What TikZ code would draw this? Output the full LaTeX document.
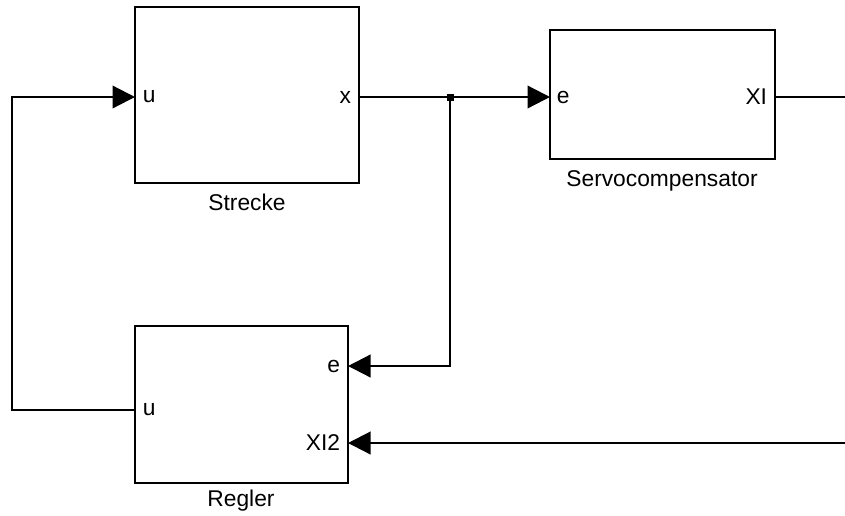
\documentclass[tikz,border=0pt]{standalone}
\usepackage{fontspec}
\setmainfont{Liberation Sans}
\usetikzlibrary{arrows.meta}
\begin{document}
\begin{tikzpicture}[x=0.025cm,y=-0.025cm,
    block/.style={draw,line width=1.6pt,inner sep=0pt},
    sig/.style={line width=1.6pt},
    tip/.style={-{Triangle[length=16pt,width=16pt]}},
    every node/.style={font=\fontsize{16.2}{19}\selectfont}]
  \useasboundingbox (0,0) rectangle (845,515);
  %% BLOCKS
  % Strecke
  \node[block,minimum width=5.6cm,minimum height=4.4cm] (strecke) at (247,95) {};
  \node (streckelabel) at (247,202) {Strecke};
  \node[anchor=west] (streckeu) at (138,97) {u};
  \node[anchor=east] (streckex) at (356,97) {x};
  \coordinate (su) at (135,97);
  \coordinate (sx) at (359,97);

  % Servocompensator
  \node[block,minimum width=5.625cm,minimum height=3.225cm] (servo) at (662.5,94.5) {};
  \node (servolabel) at (662,181) {Servocompensator};
  \node[anchor=west] (servoe) at (552,97) {e};
  \node[anchor=east] (servoxi) at (772,97) {XI};
  \coordinate (se) at (550,97);
  \coordinate (sxi) at (775,97);

  % Regler
  \node[block,minimum width=5.325cm,minimum height=3.925cm] (regler) at (241.5,404.5) {};
  \node (reglerlabel) at (241,501) {Regler};
  \node[anchor=east] (reglere) at (345,366) {e};
  \node[anchor=west] (regleru) at (138,410) {u};
  \node[anchor=east] (reglerxi) at (345,443) {XI2};
  \coordinate (re) at (348,366);
  \coordinate (ru) at (135,410);
  \coordinate (rxi) at (348,443);

  %% SIGNALS
  \coordinate (branch) at (450,97);
  \coordinate (bend) at (12,97);
  \coordinate (xiout) at (845,97);
  \coordinate (xiin) at (845,443);
  \draw[sig,tip] (sx) -- (se);
  \fill (branch) +(-3.5,-3.5) rectangle +(3.5,3.5);
  \draw[sig,tip] (branch) |- (re);
  \draw[sig] (sxi) -- (xiout);
  \draw[sig,tip] (xiin) -- (rxi);
  \draw[sig,tip] (ru) -| (bend) -- (su);
\end{tikzpicture}
\end{document}
